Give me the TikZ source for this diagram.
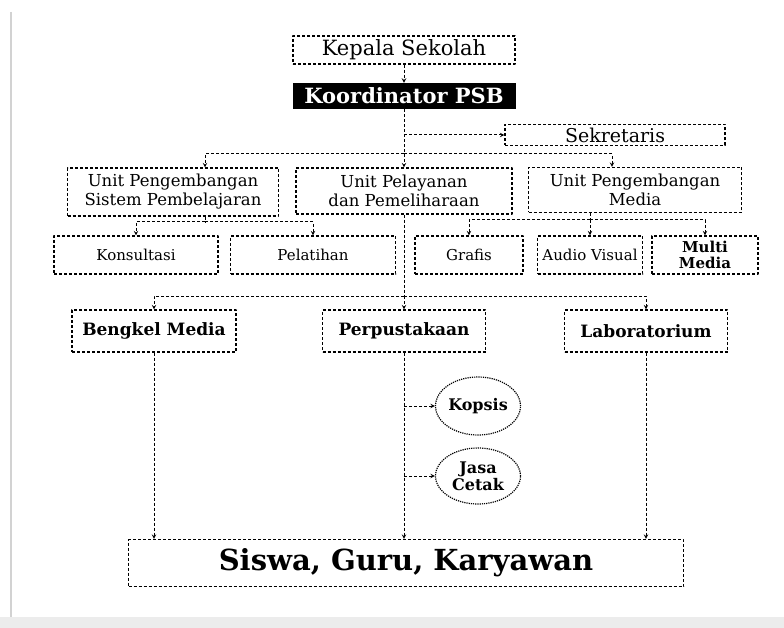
\documentclass[tikz,border=0pt]{standalone}
\usepackage{fontspec}
\setmainfont{DejaVu Serif}
\usetikzlibrary{shapes.geometric}
\begin{document}
\begin{tikzpicture}[x=1pt, y=-1pt, line join=round, >=stealth, font=\fontsize{15}{17}\selectfont]
	\tikzset{kotak/.style={draw, densely dashed, line width=1.1pt, inner sep=1pt, align=center},
		garis/.style={densely dashed, line width=1pt},
		oval/.style={draw, ellipse, densely dotted, line width=1.2pt, inner sep=0pt, align=center, font=\fontsize{16}{17}\selectfont\bfseries}}
	\def\besar{\fontsize{21}{23}\selectfont}
	\def\unit{\fontsize{16.5}{19}\selectfont}
	\useasboundingbox (0,0) rectangle (784,628);
	% bingkai
	\fill[gray!15] (0,617) rectangle (784,628);
	\draw[gray!35, line width=1.5pt] (11,12) -- (11,617);
	% pimpinan
	\node[kotak, minimum width=222, minimum height=28, font=\besar] (kepsek) at (404,50) {Kepala Sekolah};
	\node[fill=black, text=white, minimum width=223, minimum height=26, inner sep=0pt, font=\besar\bfseries] (koor) at (404,96) {Koordinator PSB};
	\node[kotak, minimum width=220, minimum height=21, font=\fontsize{19}{20}\selectfont] (sekr) at (615,135) {Sekretaris};
	% unit
	\node[kotak, minimum width=211, minimum height=48, inner sep=0pt, font=\unit] (unitA) at (173,192) {Unit Pengembangan\\Sistem Pembelajaran};
	\node[kotak, minimum width=216, minimum height=46, inner sep=0pt, font=\unit] (unitB) at (404,191) {Unit Pelayanan\\dan Pemeliharaan};
	\node[kotak, minimum width=213, minimum height=45, inner sep=0pt, font=\unit] (unitC) at (635,190) {Unit Pengembangan\\Media};
	% sub unit
	\node[kotak, minimum width=164, minimum height=38] (konsul) at (136,255) {Konsultasi};
	\node[kotak, minimum width=165, minimum height=38] (latih) at (313,255) {Pelatihan};
	\node[kotak, minimum width=108, minimum height=38] (grafis) at (469,255) {Grafis};
	\node[kotak, minimum width=105, minimum height=38] (audio) at (590,255) {Audio Visual};
	\node[kotak, minimum width=106, minimum height=38, font=\fontsize{15}{16}\selectfont\bfseries] (multi) at (705,255) {Multi\\Media};
	% layanan
	\node[kotak, minimum width=164, minimum height=42, font=\fontsize{17}{19}\selectfont\bfseries] (bengkel) at (154,331) {Bengkel Media};
	\node[kotak, minimum width=163, minimum height=42, font=\fontsize{17}{19}\selectfont\bfseries] (perpus) at (404,331) {Perpustakaan};
	\node[kotak, minimum width=163, minimum height=42, font=\fontsize{17}{19}\selectfont\bfseries] (lab) at (646,331) {Laboratorium};
	\node[oval, minimum width=85, minimum height=58] (kopsis) at (478,406) {Kopsis};
	\node[oval, minimum width=85, minimum height=56] (cetak) at (478,476) {Jasa\\Cetak};
	\node[kotak, minimum width=555, minimum height=47, font=\fontsize{29}{31}\selectfont\bfseries] (siswa) at (406,563) {Siswa, Guru, Karyawan};
	% penghubung
	\coordinate (b1) at (404,154);
	\coordinate (b2) at (205,222);
	\coordinate (b3) at (590,220);
	\coordinate (b4) at (404,296);
	\draw[garis,->] (kepsek) -- (koor);
	\draw[garis,->] (koor) -- (unitB);
	\draw[garis,->] (koor.south |- sekr) -- (sekr);
	\draw[garis,->] (b1) -| ([xshift=32pt]unitA.north);
	\draw[garis,->] (b1) -| ([xshift=-23pt]unitC.north);
	\draw[garis] (unitA.south -| b2) -- (b2);
	\draw[garis,->] (b2) -| (konsul);
	\draw[garis,->] (b2) -| (latih);
	\draw[garis] (unitC.south -| b3) -- (b3);
	\draw[garis,->] (b3) -| (grafis);
	\draw[garis,->] (b3) -- (audio);
	\draw[garis,->] (b3) -| (multi);
	\draw[garis] (unitB) -- (b4);
	\draw[garis,->] (b4) -| (bengkel);
	\draw[garis,->] (b4) -- (perpus);
	\draw[garis,->] (b4) -| (lab);
	\draw[garis,->] (bengkel) -- (bengkel.south |- siswa.north);
	\draw[garis,->] (perpus) -- (perpus.south |- siswa.north);
	\draw[garis,->] (lab) -- (lab.south |- siswa.north);
	\draw[garis,->] (perpus.south |- kopsis) -- (kopsis);
	\draw[garis,->] (perpus.south |- cetak) -- (cetak);
\end{tikzpicture}
\end{document}
